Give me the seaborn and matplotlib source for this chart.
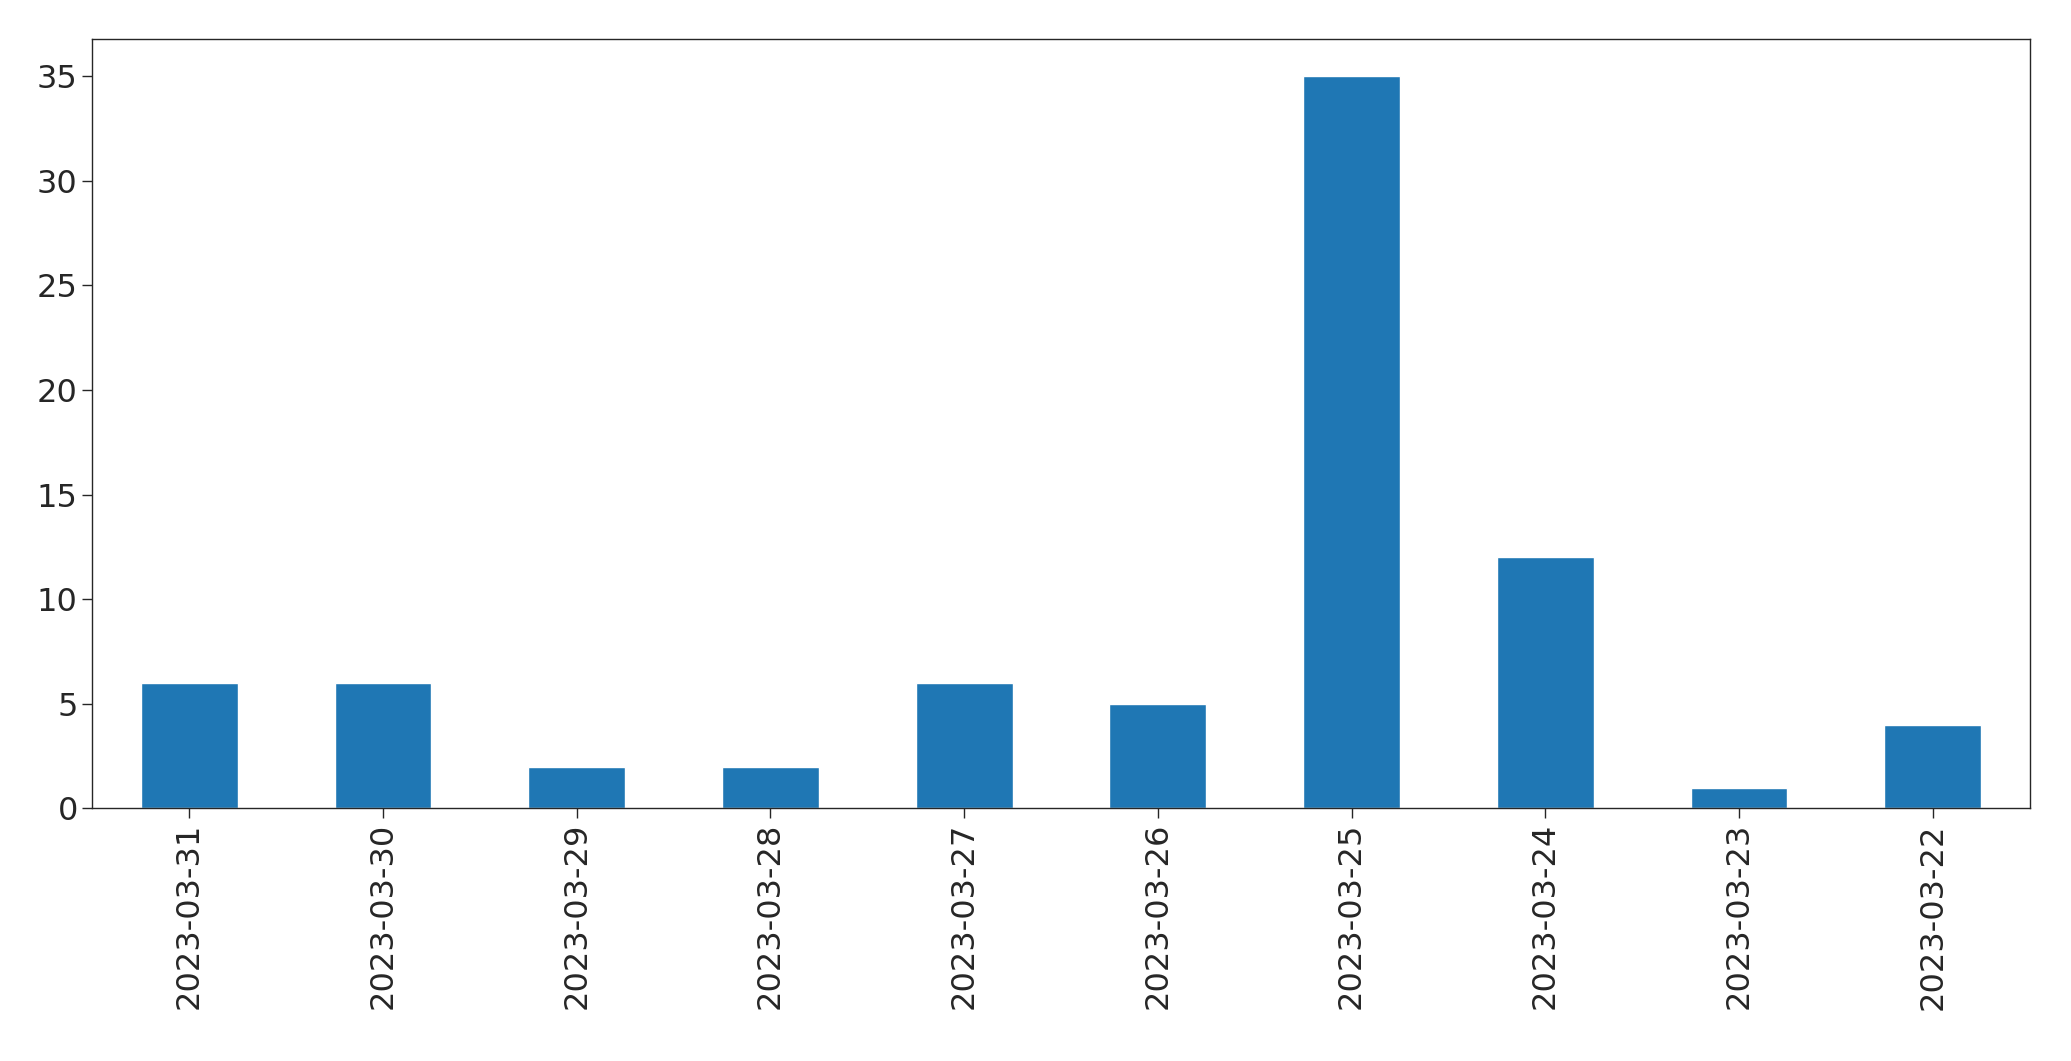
import matplotlib
matplotlib.use("Agg")
import matplotlib.pyplot as plt
import seaborn as sns
import pandas as pd

dates = ["2023-03-31","2023-03-30","2023-03-29","2023-03-28","2023-03-27",
         "2023-03-26","2023-03-25","2023-03-24","2023-03-23","2023-03-22"]
counts = [6, 6, 2, 2, 6, 5, 35, 12, 1, 4]

sns.set_style("ticks")
plt.rcParams['font.family'] = ['DejaVu Sans']
df = pd.DataFrame({"date": dates, "count": counts})

fig = plt.figure(figsize=(20.71, 10.61), dpi=100)
ax = fig.add_axes([0.0446, 0.238, 0.9354, 0.725])
sns.barplot(data=df, x="date", y="count", color="#1f77b4", saturation=1, width=0.5, ax=ax)
ax.set_xlabel("")
ax.set_ylabel("")
ax.set_xlim(-0.5, len(dates) - 0.5)
ax.set_ylim(0, 36.75)
ax.tick_params(axis="both", labelsize=23, length=7, width=1)
plt.setp(ax.get_xticklabels(), rotation=90)
for s in ax.spines.values():
    s.set_visible(True)
    s.set_linewidth(1)
fig.savefig("out.png", dpi=100)
